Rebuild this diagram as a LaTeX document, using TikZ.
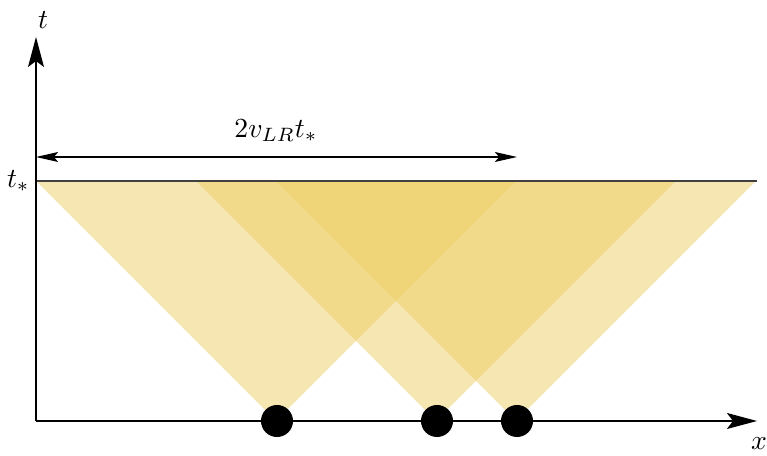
\documentclass[tikz,border=0pt]{standalone}
\usetikzlibrary{arrows.meta}
\definecolor{cone}{RGB}{237,207,101}
\begin{document}
\begin{tikzpicture}[x=0.3623pt,y=-0.3623pt,
  conefill/.style={fill=cone,fill opacity=0.5,draw=none},
  axis/.style={line width=0.38pt,-{Stealth[length=10.9pt,width=5.8pt,inset=2.2pt]}},
  dot/.style={circle,fill=black,inner sep=0pt,minimum size=11.6pt},
  span/.style={line width=0.38pt,{Stealth[length=8pt,width=3.6pt,inset=1.5pt]}-{Stealth[length=8pt,width=3.6pt,inset=1.5pt]}}]
\useasboundingbox (0,0) rectangle (767,456);
% cones
\fill[conefill] (276,421) -- (36,181) -- (516,181) -- cycle;
\fill[conefill] (436,421) -- (196,181) -- (676,181) -- cycle;
\fill[conefill] (516,421) -- (276,181) -- (756,181) -- cycle;
% coordinates
\coordinate (O) at (36,421);
\coordinate (xe) at (757,421);
\coordinate (te) at (36,37);
\coordinate (ts) at (36,181);
\coordinate (tsr) at (757,181);
\coordinate (sl) at (36,157);
\coordinate (sr) at (517,157);
% lines
\draw[line width=0.38pt,black!75] (ts) -- (tsr);
\draw[axis] (O) -- (xe);
\draw[axis] (O) -- (te);
\draw[span] (sl) -- (sr);
% labels
\node (tl) at (43,20) {$t$};
\node (xl) at (759,444) {$x$};
\node[anchor=east,inner sep=1pt] (tsl) at (33,181) {$t_*$};
\node (sp) at (276,131) {$2v_{LR}t_*$};
% dots
\node[dot] (d1) at (277,421) {};
\node[dot] (d2) at (437,421) {};
\node[dot] (d3) at (517,421) {};
\end{tikzpicture}
\end{document}
